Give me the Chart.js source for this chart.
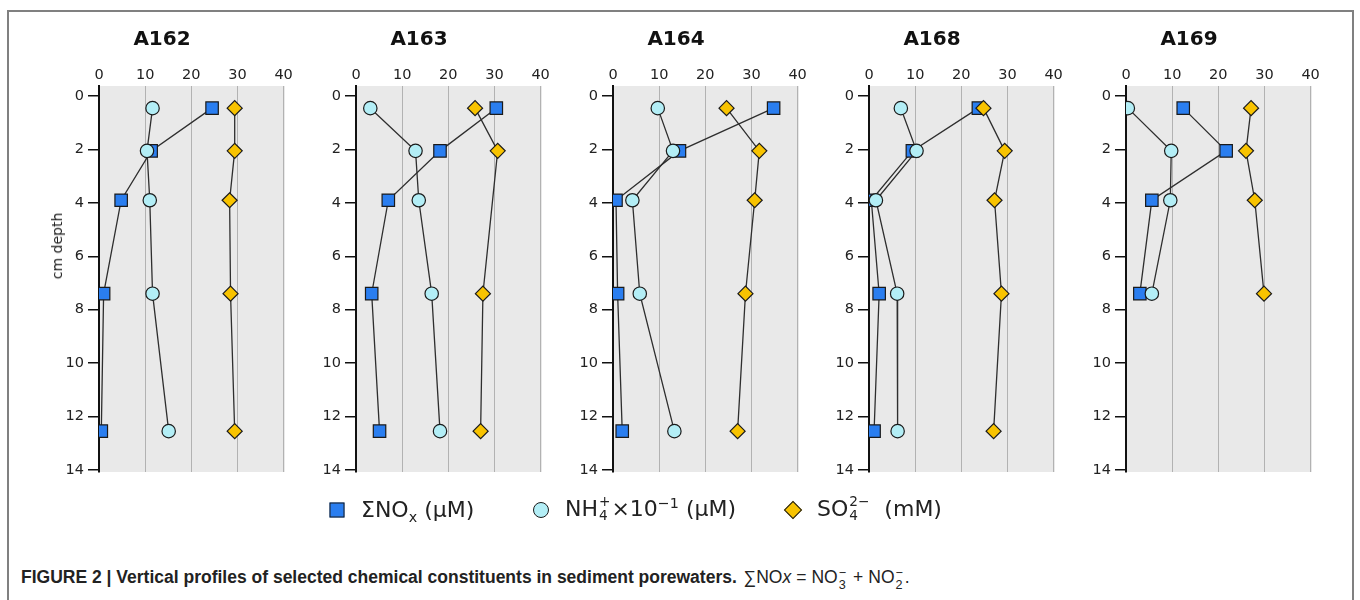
<!DOCTYPE html>
<html>
<head>
<meta charset="utf-8">
<script src="https://cdn.jsdelivr.net/npm/chart.js@4.4.0/dist/chart.umd.min.js"></script>
<style>
  html, body { margin: 0; padding: 0; background: #fff; }
  body { width: 1360px; height: 600px; position: relative; overflow: hidden; font-family: "DejaVu Sans", sans-serif; color: #222; }
  .frame { position: absolute; left: 7px; top: 10px; width: 1347px; height: 620px; border: 2px solid #808080; box-sizing: border-box; }
  canvas.panel { position: absolute; top: 0; }
  .ylab { position: absolute; left: 57px; top: 246px; transform: translate(-50%, -50%) rotate(-90deg); font-size: 14px; white-space: nowrap; color: #222; }
  .leg { position: absolute; top: 510px; font-size: 22px; color: #222; white-space: nowrap; line-height: 1; }
  .leg .txt { position: absolute; left: 24px; top: 0; transform: translateY(-50%); }
  .mk { position: absolute; box-sizing: border-box; border: 1.3px solid #1a1a1a; transform: translate(-50%, -50%); left: 0; top: 0; }
  .stk { display: inline-flex; flex-direction: column; vertical-align: middle; font-size: 0.62em; line-height: 1.0; margin: 0 1px; position: relative; top: -0.05em; }
  .sub { font-size: 0.65em; position: relative; top: 0.35em; }
  .sup { font-size: 0.65em; position: relative; top: -0.55em; }
  .caption { position: absolute; left: 21px; top: 566px; font-family: "Liberation Sans", Arial, sans-serif; font-size: 17.5px; color: #222; white-space: nowrap; }
  .caption b { font-weight: bold; }
  .caption .math { font-family: "Liberation Sans", Arial, sans-serif; margin-left: 2px; }
  .caption .op { margin: 0 5px; }
  .caption .stk2 { display: inline-flex; flex-direction: column; vertical-align: middle; font-size: 0.72em; line-height: 0.95; margin: 0 2px 0 1px; position: relative; top: 0.15em; }
</style>
</head>
<body>
<div class="frame"></div>
<canvas class="panel" id="c0" width="306" height="492"></canvas>
<canvas class="panel" id="c1" width="306" height="492"></canvas>
<canvas class="panel" id="c2" width="306" height="492"></canvas>
<canvas class="panel" id="c3" width="306" height="492"></canvas>
<canvas class="panel" id="c4" width="306" height="492"></canvas>
<div class="ylab">cm depth</div>

<div class="leg" style="left:337px">
  <div class="mk" style="width:15px;height:15px;background:#2a7ef0;"></div>
  <div class="txt">ΣNO<span class="sub">x</span> (µM)</div>
</div>
<div class="leg" style="left:541px">
  <div class="mk" style="width:16px;height:16px;border-radius:50%;background:#b3eef6;"></div>
  <div class="txt">NH<span class="stk"><span>+</span><span>4</span></span>×10<span class="sup">−1</span> (µM)</div>
</div>
<div class="leg" style="left:793px">
  <div class="mk" style="width:13px;height:13px;background:#f8c300;transform:translate(-50%,-50%) rotate(45deg);"></div>
  <div class="txt">SO<span class="stk"><span>2−</span><span>4</span></span>&nbsp;&nbsp;(mM)</div>
</div>

<div class="caption"><b>FIGURE 2 | Vertical profiles of selected chemical constituents in sediment porewaters.</b> <span class="math">∑NO<i>x</i><span class="op">=</span>NO<span class="stk2"><span>−</span><span>3</span></span><span class="op">+</span>NO<span class="stk2"><span>−</span><span>2</span></span>.</span></div>

<script>
// ---- data ----
const stations = ["A162", "A163", "A164", "A168", "A169"];
const depths = [0.45, 2.05, 3.9, 7.4, 12.55];
const xTickValues = [0, 10, 20, 30, 40];
const yTickValues = [0, 2, 4, 6, 8, 10, 12, 14];

const nox_A162 = [24.5, 11.3, 4.8, 1.0, 0.5];
const nh4_A162 = [11.6, 10.4, 11.0, 11.6, 15.1];
const so4_A162 = [29.4, 29.4, 28.3, 28.5, 29.4];

const nox_A163 = [30.4, 18.2, 7.0, 3.4, 5.1];
const nh4_A163 = [3.1, 12.9, 13.6, 16.4, 18.2];
const so4_A163 = [25.8, 30.7, null, 27.5, 27.0];

const nox_A164 = [34.8, 14.4, 0.65, 1.0, 2.0];
const nh4_A164 = [9.7, 13.0, 4.2, 5.8, 13.3];
const so4_A164 = [24.6, 31.7, 30.7, 28.7, 27.0];

const nox_A168 = [23.7, 9.4, 0.5, 2.2, 1.1];
const nh4_A168 = [6.9, 10.3, 1.5, 6.1, 6.2];
const so4_A168 = [24.8, 29.4, 27.2, 28.7, 27.0];

const nox_A169 = [12.4, 21.7, 5.6, 3.0, null];
const nh4_A169 = [0.4, 9.8, 9.6, 5.6, null];
const so4_A169 = [27.1, 26.0, 27.9, 29.9, null];

const noxSeries = [nox_A162, nox_A163, nox_A164, nox_A168, nox_A169];
const nh4Series = [nh4_A162, nh4_A163, nh4_A164, nh4_A168, nh4_A169];
const so4Series = [so4_A162, so4_A163, so4_A164, so4_A168, so4_A169];

// ---- drawing ----
function pts(vals) {
  const out = [];
  vals.forEach((v, i) => { if (v !== null) out.push({ x: v, y: depths[i] }); });
  return out;
}

const bgPlugin = {
  id: 'plotBg',
  beforeDraw(chart) {
    const a = chart.chartArea, ctx = chart.ctx;
    ctx.save();
    ctx.fillStyle = '#e9e9e9';
    ctx.fillRect(a.left, a.top, a.right - a.left, a.bottom - a.top);
    ctx.restore();
  }
};

const tickFont = { family: 'DejaVu Sans', size: 14.5 };
const lineCol = '#2e2e2e';
const edgeCol = '#1a1a1a';

stations.forEach((name, i) => {
  const canvas = document.getElementById('c' + i);
  const spineX = 99.3 + 256.6 * i;
  canvas.style.left = (spineX - 60) + 'px';
  new Chart(canvas, {
    type: 'scatter',
    data: {
      datasets: [
        {
          label: 'SO4', data: pts(so4Series[i]), showLine: true, order: 0,
          borderColor: lineCol, borderWidth: 1.3,
          pointStyle: 'rectRot', pointRadius: 7.5, pointBackgroundColor: '#f8c300',
          pointBorderColor: edgeCol, pointBorderWidth: 1.2
        },
        {
          label: 'NH4', data: pts(nh4Series[i]), showLine: true, order: 1,
          borderColor: lineCol, borderWidth: 1.3,
          pointStyle: 'circle', pointRadius: 6.7, pointBackgroundColor: '#b3eef6',
          pointBorderColor: edgeCol, pointBorderWidth: 1.2
        },
        {
          label: 'NOx', data: pts(noxSeries[i]), showLine: true, order: 2,
          borderColor: lineCol, borderWidth: 1.3,
          pointStyle: 'rect', pointRadius: 8.8, pointBackgroundColor: '#2a7ef0',
          pointBorderColor: edgeCol, pointBorderWidth: 1.2
        }
      ]
    },
    options: {
      responsive: false,
      animation: false,
      devicePixelRatio: 1,
      layout: { padding: { left: 0, right: 60, top: 0, bottom: 20 } },
      plugins: {
        legend: { display: false },
        tooltip: { enabled: false },
        title: {
          display: true, text: name, color: '#111',
          font: { family: 'DejaVu Sans', size: 20, weight: 'bold', lineHeight: 1.2 },
          padding: { top: 27.5, bottom: 0 }
        }
      },
      scales: {
        x: {
          type: 'linear', position: 'top', min: 0, max: 40.3,
          afterBuildTicks: (s) => { s.ticks = xTickValues.map(v => ({ value: v })); },
          afterFit: (s) => { s.height = 34.5; },
          grid: { color: '#b2b2b2', lineWidth: 1, drawTicks: false },
          border: { display: false },
          ticks: { padding: 2, font: tickFont, color: '#222', maxRotation: 0 }
        },
        y: {
          type: 'linear', position: 'left', reverse: true, min: -0.38, max: 14.08,
          afterBuildTicks: (s) => { s.ticks = yTickValues.map(v => ({ value: v })); },
          afterFit: (s) => { s.width = 60; },
          grid: { drawOnChartArea: false, drawTicks: true, tickLength: 11, color: '#111', lineWidth: 1.5 },
          border: { display: true, color: '#111', width: 2 },
          ticks: { padding: 4, font: tickFont, color: '#222' }
        }
      }
    },
    plugins: [bgPlugin]
  });
});
</script>
</body>
</html>
